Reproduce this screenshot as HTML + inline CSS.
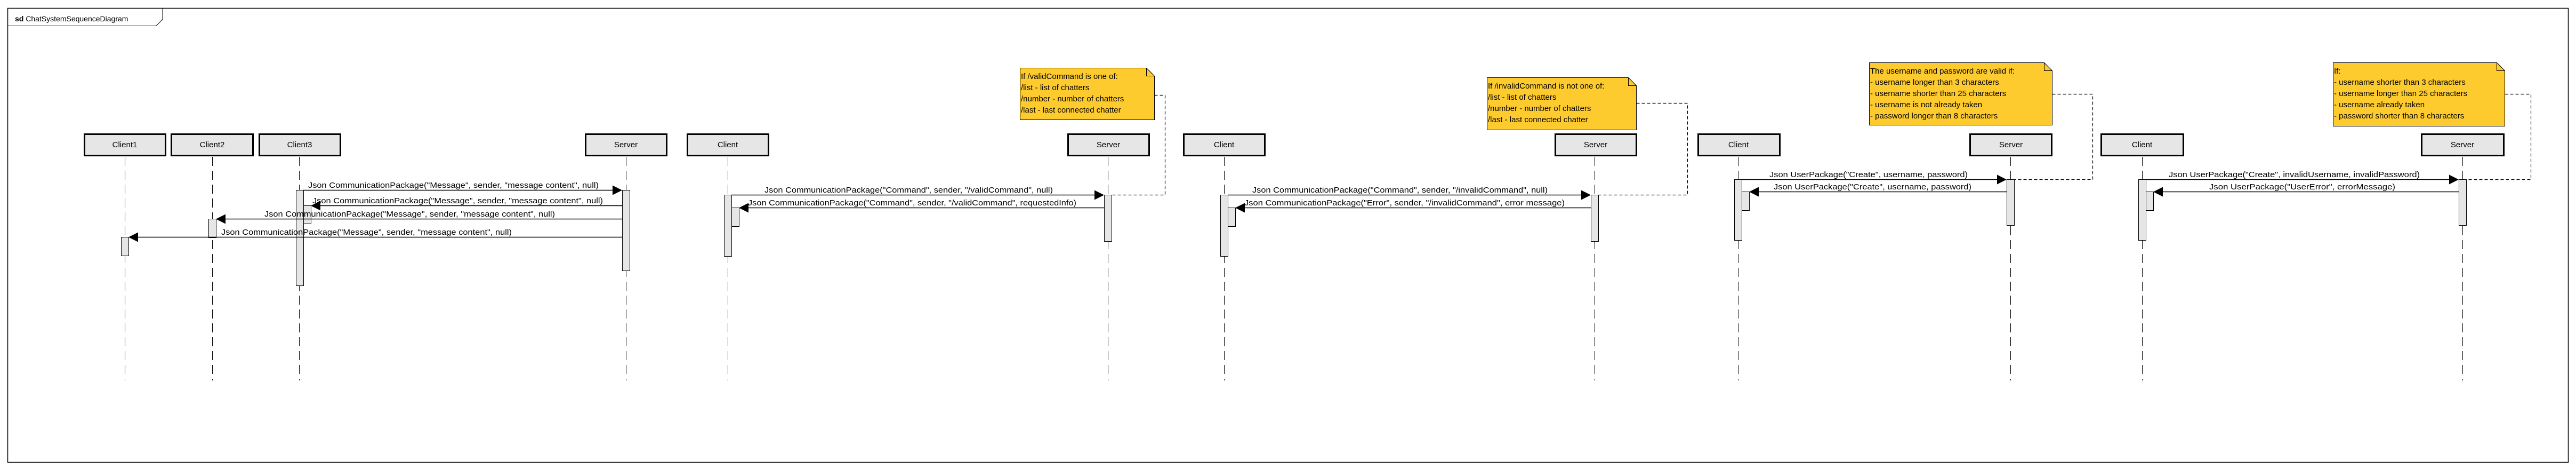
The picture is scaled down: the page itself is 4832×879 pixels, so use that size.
<!DOCTYPE html>
<html><head><meta charset="utf-8"><style>
html,body{margin:0;padding:0;background:#fff;}
svg{display:block;}
text{font-family:"Liberation Sans",sans-serif;fill:#000;}
.m{font-size:15px;}
.n{font-size:15px;}
.b{font-size:15px;}
</style></head><body>
<svg width="4832" height="879" viewBox="0 0 4832 879" xmlns="http://www.w3.org/2000/svg">
<rect x="0" y="0" width="4832" height="879" fill="#fff"/>
<!-- frame -->
<rect x="14.5" y="15.5" width="4803" height="851" fill="none" stroke="#000" stroke-width="1.5"/>
<path d="M14.5 48.5 H293 L305 36 V15.5" fill="none" stroke="#000" stroke-width="1"/>
<text x="28" y="40" style="font-size:14px"><tspan font-weight="bold">sd</tspan> ChatSystemSequenceDiagram</text>

<!-- lifelines -->
<g stroke="#000" stroke-width="1" stroke-dasharray="17 9" fill="none">
<path d="M234.5 294V713M398.5 294V713M561.5 294V713M1174.5 294V713"/>
<path d="M1365.5 294V713M2078.5 294V713"/>
<path d="M2296.5 294V713M2991.5 294V713"/>
<path d="M3260.5 294V713M3771.5 294V713"/>
<path d="M4018.5 294V713M4619.5 294V713"/>
</g>

<!-- lifeline boxes -->
<g fill="#e6e6e6" stroke="#000" stroke-width="3">
<rect x="158.5" y="251.5" width="152" height="40"/>
<rect x="321.5" y="251.5" width="153" height="40"/>
<rect x="486.5" y="251.5" width="152" height="40"/>
<rect x="1098.5" y="251.5" width="152" height="40"/>
<rect x="1289.5" y="251.5" width="152" height="40"/>
<rect x="2003.5" y="251.5" width="152" height="40"/>
<rect x="2220.5" y="251.5" width="152" height="40"/>
<rect x="2917.5" y="251.5" width="152" height="40"/>
<rect x="3185.5" y="251.5" width="153" height="40"/>
<rect x="3695.5" y="251.5" width="153" height="40"/>
<rect x="3941.5" y="251.5" width="154" height="40"/>
<rect x="4542.5" y="251.5" width="154" height="40"/>
</g>
<g class="b" text-anchor="middle">
<text x="234" y="276">Client1</text>
<text x="398" y="276">Client2</text>
<text x="562" y="276">Client3</text>
<text x="1174" y="276">Server</text>
<text x="1365" y="276">Client</text>
<text x="2079" y="276">Server</text>
<text x="2296" y="276">Client</text>
<text x="2993" y="276">Server</text>
<text x="3261" y="276">Client</text>
<text x="3772" y="276">Server</text>
<text x="4018" y="276">Client</text>
<text x="4619" y="276">Server</text>
</g>

<!-- activation bars -->
<g fill="#e6e6e6" stroke="#000" stroke-width="1">
<rect x="555.5" y="356.5" width="14" height="179"/>
<rect x="569.5" y="385.5" width="14" height="34"/>
<rect x="391.5" y="410.5" width="14" height="35"/>
<rect x="227.5" y="444.5" width="14" height="35"/>
<rect x="1167.5" y="356.5" width="14" height="151"/>

<rect x="1358.5" y="365.5" width="14" height="115"/>
<rect x="1372.5" y="389.5" width="14" height="35"/>
<rect x="2071.5" y="365.5" width="14" height="87"/>

<rect x="2289.5" y="365.5" width="14" height="115"/>
<rect x="2303.5" y="389.5" width="14" height="35"/>
<rect x="2984.5" y="365.5" width="14" height="87"/>

<rect x="3253.5" y="336.5" width="14" height="114"/>
<rect x="3267.5" y="359.5" width="14" height="35"/>
<rect x="3764.5" y="336.5" width="14" height="86"/>

<rect x="4011.5" y="336.5" width="14" height="114"/>
<rect x="4025.5" y="359.5" width="14" height="35"/>
<rect x="4612.5" y="336.5" width="14" height="86"/>
</g>

<!-- notes -->
<g fill="#fecb2f" stroke="#000" stroke-width="1">
<path d="M1913.5 127.5H2150.5L2165.5 142.5V224.5H1913.5Z"/>
<path d="M2789.5 145.5H3054.5L3069.5 160.5V243.5H2789.5Z"/>
<path d="M3506.5 117.5H3834.5L3849.5 132.5V234.5H3506.5Z"/>
<path d="M4376.5 117.5H4683.5L4698.5 132.5V236.5H4376.5Z"/>
</g>
<g fill="none" stroke="#000" stroke-width="1">
<path d="M2150.5 127.5V142.5H2165.5M3054.5 145.5V160.5H3069.5M3834.5 117.5V132.5H3849.5M4683.5 117.5V132.5H4698.5"/>
</g>
<g class="n">
<text x="1915" y="148">If /validCommand is one of:</text>
<text x="1915" y="169">/list - list of chatters</text>
<text x="1915" y="190">/number - number of chatters</text>
<text x="1915" y="211">/last - last connected chatter</text>

<text x="2791" y="166">If /invalidCommand is not one of:</text>
<text x="2791" y="187">/list - list of chatters</text>
<text x="2791" y="208">/number - number of chatters</text>
<text x="2791" y="229">/last - last connected chatter</text>

<text x="3508" y="138">The username and password are valid if:</text>
<text x="3508" y="159">- username longer than 3 characters</text>
<text x="3508" y="180">- username shorter than 25 characters</text>
<text x="3508" y="201">- username is not already taken</text>
<text x="3508" y="222">- password longer than 8 characters</text>

<text x="4378" y="138">If:</text>
<text x="4378" y="159">- username shorter than 3 characters</text>
<text x="4378" y="180">- username longer than 25 characters</text>
<text x="4378" y="201">- username already taken</text>
<text x="4378" y="222">- password shorter than 8 characters</text>
</g>

<!-- note connectors -->
<g fill="none" stroke="#000" stroke-width="1.2" stroke-dasharray="6 4">
<path d="M2165.5 178.5H2185.5V365.5H2085.5"/>
<path d="M3069.5 193.5H3165.5V365.5H2998.5"/>
<path d="M3849.5 176.5H3925.5V336.5H3778.5"/>
<path d="M4698.5 176.5H4747.5V336.5H4626.5"/>
</g>

<!-- messages -->
<g stroke="#000" stroke-width="1.5" fill="none">
<path d="M569 356.5H1150"/>
<path d="M1167 385.5H601"/>
<path d="M1167 410.5H423"/>
<path d="M1167 444.5H259"/>
<path d="M1372 365.5H2054"/>
<path d="M2071 389.5H1404"/>
<path d="M2303 365.5H2967"/>
<path d="M2984 389.5H2335"/>
<path d="M3267 336.5H3747"/>
<path d="M3764 359.5H3299"/>
<path d="M4025 336.5H4595"/>
<path d="M4612 359.5H4057"/>
</g>
<g fill="#000">
<polygon points="1167,356.5 1149,347.5 1149,365.5"/>
<polygon points="583,385.5 601,376.5 601,394.5"/>
<polygon points="405,410.5 423,401.5 423,419.5"/>
<polygon points="241,444.5 259,435.5 259,453.5"/>
<polygon points="2071,365.5 2053,356.5 2053,374.5"/>
<polygon points="1386,389.5 1404,380.5 1404,398.5"/>
<polygon points="2984,365.5 2966,356.5 2966,374.5"/>
<polygon points="2317,389.5 2335,380.5 2335,398.5"/>
<polygon points="3764,336.5 3746,327.5 3746,345.5"/>
<polygon points="3281,359.5 3299,350.5 3299,368.5"/>
<polygon points="4612,336.5 4594,327.5 4594,345.5"/>
<polygon points="4039,359.5 4057,350.5 4057,368.5"/>
</g>
<g class="m">
<text x="578" y="352" textLength="545" lengthAdjust="spacingAndGlyphs">Json CommunicationPackage("Message", sender, "message content", null)</text>
<text x="586" y="381" textLength="545" lengthAdjust="spacingAndGlyphs">Json CommunicationPackage("Message", sender, "message content", null)</text>
<text x="496" y="406" textLength="545" lengthAdjust="spacingAndGlyphs">Json CommunicationPackage("Message", sender, "message content", null)</text>
<text x="415" y="440" textLength="545" lengthAdjust="spacingAndGlyphs">Json CommunicationPackage("Message", sender, "message content", null)</text>

<text x="1434" y="361" textLength="541" lengthAdjust="spacingAndGlyphs">Json CommunicationPackage("Command", sender, "/validCommand", null)</text>
<text x="1403" y="385" textLength="616" lengthAdjust="spacingAndGlyphs">Json CommunicationPackage("Command", sender, "/validCommand", requestedInfo)</text>

<text x="2349" y="361" textLength="554" lengthAdjust="spacingAndGlyphs">Json CommunicationPackage("Command", sender, "/invalidCommand", null)</text>
<text x="2334" y="385" textLength="601" lengthAdjust="spacingAndGlyphs">Json CommunicationPackage("Error", sender, "/invalidCommand", error message)</text>

<text x="3319" y="332" textLength="372" lengthAdjust="spacingAndGlyphs">Json UserPackage("Create", username, password)</text>
<text x="3327" y="355" textLength="371" lengthAdjust="spacingAndGlyphs">Json UserPackage("Create", username, password)</text>

<text x="4068" y="332" textLength="471" lengthAdjust="spacingAndGlyphs">Json UserPackage("Create", invalidUsername, invalidPassword)</text>
<text x="4144" y="355" textLength="349" lengthAdjust="spacingAndGlyphs">Json UserPackage("UserError", errorMessage)</text>
</g>
</svg>
</body></html>
